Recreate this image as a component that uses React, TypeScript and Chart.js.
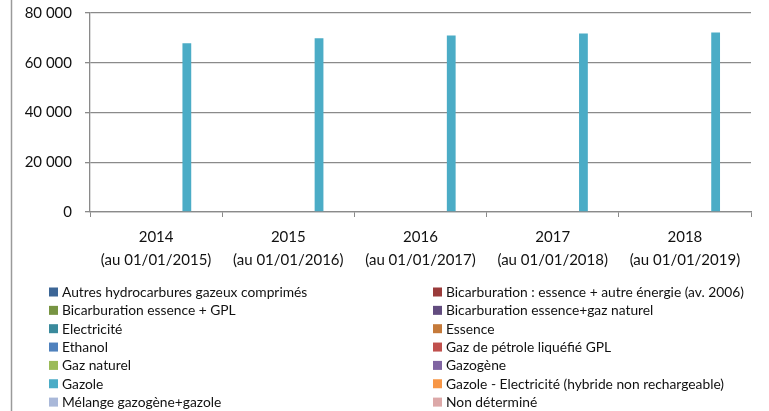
import React, { useEffect, useRef } from "react";
import { Chart, registerables } from "chart.js";

Chart.register(...registerables);

const years = ["2014", "2015", "2016", "2017", "2018"];
const asOf = ["(au 01/01/2015)", "(au 01/01/2016)", "(au 01/01/2017)", "(au 01/01/2018)", "(au 01/01/2019)"];

const seriesNames = [
  "Autres hydrocarbures gazeux comprimés",
  "Bicarburation : essence + autre énergie (av. 2006)",
  "Bicarburation essence + GPL",
  "Bicarburation essence+gaz naturel",
  "Electricité",
  "Essence",
  "Ethanol",
  "Gaz de pétrole liquéfié GPL",
  "Gaz naturel",
  "Gazogène",
  "Gazole",
  "Gazole - Electricité (hybride non rechargeable)",
  "Mélange gazogène+gazole",
  "Non déterminé",
];

const seriesColors = [
  "#3C6696", "#9A3B3A", "#779442", "#624C7F", "#3A8A9C", "#C57A3A",
  "#4F81BD", "#C0504D", "#9BBB59", "#8064A2", "#4BACC6", "#F79646",
  "#A9B8D9", "#DCA8A8",
];

const autresHydrocarbures = [0, 0, 0, 0, 0];
const bicarbAutre = [0, 0, 0, 0, 0];
const bicarbGPL = [0, 0, 0, 0, 0];
const bicarbGazNaturel = [0, 0, 0, 0, 0];
const electricite = [0, 0, 0, 0, 0];
const essence = [0, 0, 0, 0, 0];
const ethanol = [0, 0, 0, 0, 0];
const gpl = [0, 0, 0, 0, 0];
const gazNaturel = [0, 0, 0, 0, 0];
const gazogene = [0, 0, 0, 0, 0];
const gazole = [67800, 69800, 71000, 71800, 72200];
const gazoleElectricite = [0, 0, 0, 0, 0];
const melange = [0, 0, 0, 0, 0];
const nonDetermine = [0, 0, 0, 0, 0];

const seriesValues = [
  autresHydrocarbures, bicarbAutre, bicarbGPL, bicarbGazNaturel, electricite, essence,
  ethanol, gpl, gazNaturel, gazogene, gazole, gazoleElectricite, melange, nonDetermine,
];

const yTicks = [0, 20000, 40000, 60000, 80000];

const FONT = "Lato, 'Liberation Sans', sans-serif";
const GRID = "#8a8a8a";

const fmt = (v: number) => String(v).replace(/\B(?=(\d{3})+(?!\d))/g, " ");

const legendPlugin = {
  id: "twoColLegend",
  afterDraw(chart: any) {
    const ctx = chart.ctx;
    ctx.save();
    // left frame line
    ctx.strokeStyle = "#9a9a9a";
    ctx.lineWidth = 1.5;
    ctx.beginPath();
    ctx.moveTo(11.5, 0);
    ctx.lineTo(11.5, chart.height);
    ctx.stroke();

    ctx.font = `13.8px ${FONT}`;
    ctx.textBaseline = "middle";
    ctx.textAlign = "left";
    chart.data.datasets.forEach((ds: any, i: number) => {
      const col = i % 2;
      const row = Math.floor(i / 2);
      const x = col === 0 ? 49 : 433;
      const y = 287.5 + row * 18.35;
      ctx.fillStyle = ds.backgroundColor;
      ctx.fillRect(x, y, 9, 9);
      ctx.fillStyle = "#111";
      ctx.fillText(ds.label, x + 13, y + 5);
    });
    ctx.restore();
  },
};

export default function App() {
  const ref = useRef<HTMLCanvasElement>(null);
  useEffect(() => {
    document.body.style.margin = "0";
    const chart = new Chart(ref.current!, {
      type: "bar",
      data: {
        labels: years.map((y, i) => [y, asOf[i]]),
        datasets: seriesNames.map((name, i) => ({
          label: name,
          data: seriesValues[i],
          backgroundColor: seriesColors[i],
          borderWidth: 0,
          categoryPercentage: 0.93,
          barPercentage: 1,
        })),
      },
      options: {
        animation: false,
        responsive: false,
        maintainAspectRatio: false,
        layout: { padding: { left: 0, right: 18, top: 13, bottom: 130 } },
        plugins: { legend: { display: false }, tooltip: { enabled: false } },
        scales: {
          x: {
            grid: { display: true, drawOnChartArea: false, offset: true, color: GRID, tickLength: 5, lineWidth: 1 },
            border: { display: true, color: GRID, width: 1.3 },
            ticks: { color: "#111", font: { family: FONT, size: 15, lineHeight: 1.53 }, padding: 9, maxRotation: 0, autoSkip: false },
            afterFit: (s: any) => { s.height = 69; s.paddingLeft = 0; s.paddingRight = 0; },
          },
          y: {
            min: 0,
            max: 80000,
            afterBuildTicks: (s: any) => { s.ticks = yTicks.map((v) => ({ value: v })); },
            grid: { color: GRID, tickLength: 5, lineWidth: 1.3 },
            border: { display: true, color: GRID, width: 1.3 },
            ticks: { color: "#111", font: { family: FONT, size: 15 }, padding: 13, callback: (v: any) => fmt(Number(v)) },
            afterFit: (s: any) => { s.width = 90; s.paddingTop = 0; s.paddingBottom = 0; },
          },
        },
      },
      plugins: [legendPlugin],
    });
    return () => chart.destroy();
  }, []);
  return <canvas ref={ref} width={769} height={411} style={{ display: "block" }} />;
}
